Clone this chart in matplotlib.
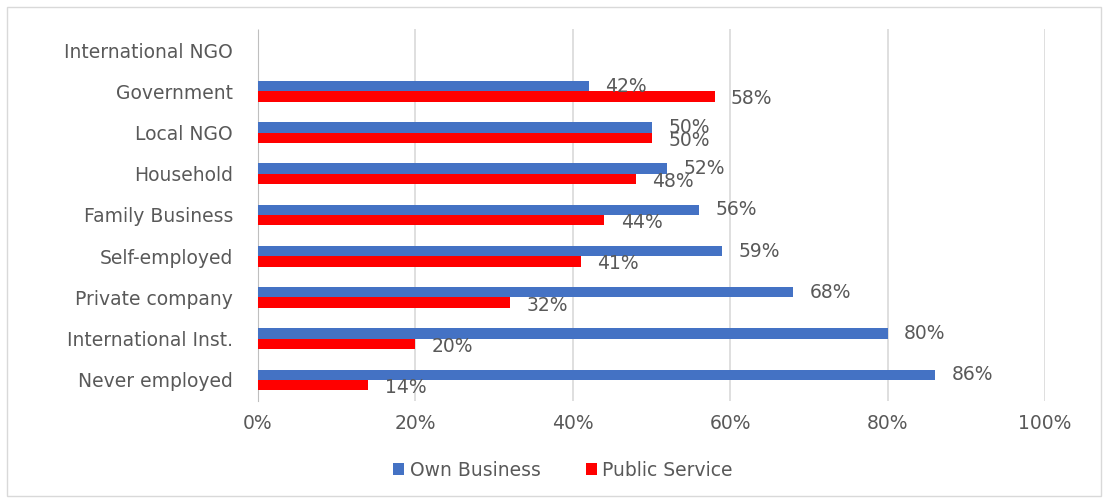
import numpy as np
import matplotlib.pyplot as plt
from matplotlib.patches import Rectangle

categories = ["Never employed", "International Inst.", "Private company", "Self-employed",
              "Family Business", "Household", "Local NGO", "Government", "International NGO"]
own_business = [86, 80, 68, 59, 56, 52, 50, 42, None]
public_service = [14, 20, 32, 41, 44, 48, 50, 58, None]

BLUE = "#4472C4"
RED = "#FF0000"
GREY_TEXT = "#595959"
FS = 13.5

plt.rcParams["font.family"] = ["DejaVu Sans"]

fig = plt.figure(figsize=(11.08, 5.0), dpi=100)
ax = fig.add_axes([0.2329, 0.199, 0.7103, 0.742])

y = np.arange(len(categories))
h = 0.25
own = np.array([v if v is not None else np.nan for v in own_business], dtype=float)
pub = np.array([v if v is not None else np.nan for v in public_service], dtype=float)

ax.barh(y + h / 2, own, height=h, color=BLUE, label="Own Business", zorder=3)
ax.barh(y - h / 2, pub, height=h, color=RED, label="Public Service", zorder=3)

# value labels just past the bar ends
for yi, v in zip(y, own):
    if not np.isnan(v):
        ax.text(v + 2.1, yi + h / 2, f"{int(v)}%", va="center", ha="left",
                fontsize=FS, color=GREY_TEXT, zorder=4)
for yi, v in zip(y, pub):
    if not np.isnan(v):
        ax.text(v + 2.1, yi - h / 2 - 0.06, f"{int(v)}%", va="center", ha="left",
                fontsize=FS, color=GREY_TEXT, zorder=4)

ax.set_xlim(0, 100)
ax.set_ylim(-0.5, len(categories) - 0.5)
ax.set_xticks(np.arange(0, 101, 20))
ax.set_xticklabels([f"{t}%" for t in range(0, 101, 20)])
ax.set_yticks(y)
ax.set_yticklabels(categories)
ax.tick_params(axis="both", length=0, labelsize=FS, colors=GREY_TEXT)
ax.tick_params(axis="x", pad=10)
ax.tick_params(axis="y", pad=18)

ax.grid(axis="x", color="#D9D9D9", linewidth=1.2, zorder=0)
for side in ["top", "right", "bottom"]:
    ax.spines[side].set_visible(False)
ax.spines["left"].set_color("#BFBFBF")

fig.legend(loc="center", bbox_to_anchor=(0.508, 0.06), ncol=2, frameon=False,
           fontsize=FS, labelcolor=GREY_TEXT, handlelength=0.6, handleheight=0.6,
           handletextpad=0.3, columnspacing=2.4)

# outer chart border
fig.patches.append(Rectangle((0.006, 0.008), 0.988, 0.978, transform=fig.transFigure,
                             fill=False, edgecolor="#D9D9D9", linewidth=1))

fig.savefig("out.png", dpi=100)
